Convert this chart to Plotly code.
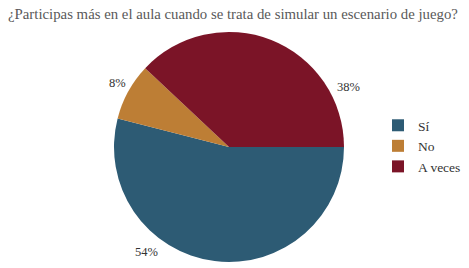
import plotly.graph_objects as go

categories = ["Sí", "No", "A veces"]
values = [54, 8, 38]
colors = ["#2d5b74", "#bd7e35", "#7b1427"]

W, H = 469, 268
# label anchor points in pixels (x, y from top)
label_px = [(146, 252), (117, 83), (348, 87)]

fig = go.Figure(go.Pie(
    labels=categories, values=values, sort=False,
    direction="clockwise", rotation=90,
    marker=dict(colors=colors, line=dict(width=0)),
    textinfo="none", hoverinfo="label+percent",
    domain=dict(x=[114 / W, 344 / W], y=[1 - 262 / H, 1 - 32 / H]),
))

for v, (px, py) in zip(values, label_px):
    fig.add_annotation(x=px / W, y=1 - py / H, xref="paper", yref="paper",
                       xanchor="center", yanchor="middle", text=f"{v}%",
                       showarrow=False,
                       font=dict(family="Liberation Serif", size=12.5, color="#333333"))

fig.update_layout(
    width=W, height=H,
    margin=dict(l=0, r=0, t=0, b=0, autoexpand=False),
    paper_bgcolor="white",
    title=dict(text="¿Participas más en el aula cuando se trata de simular un escenario de juego?",
               x=8 / W, xanchor="left", y=1 - 14 / H, yanchor="middle",
               xref="paper", yref="paper", automargin=False,
               font=dict(family="Liberation Serif", size=14.8, color="#595959")),
    legend=dict(x=378 / W, y=1 - 146 / H, xanchor="left", yanchor="middle",
                font=dict(family="Liberation Serif", size=13.5, color="#333333"),
                itemwidth=30, tracegroupgap=0),
)
fig.write_html("out.html", config={"displayModeBar": False},
               post_script="document.body.style.margin='0';")
